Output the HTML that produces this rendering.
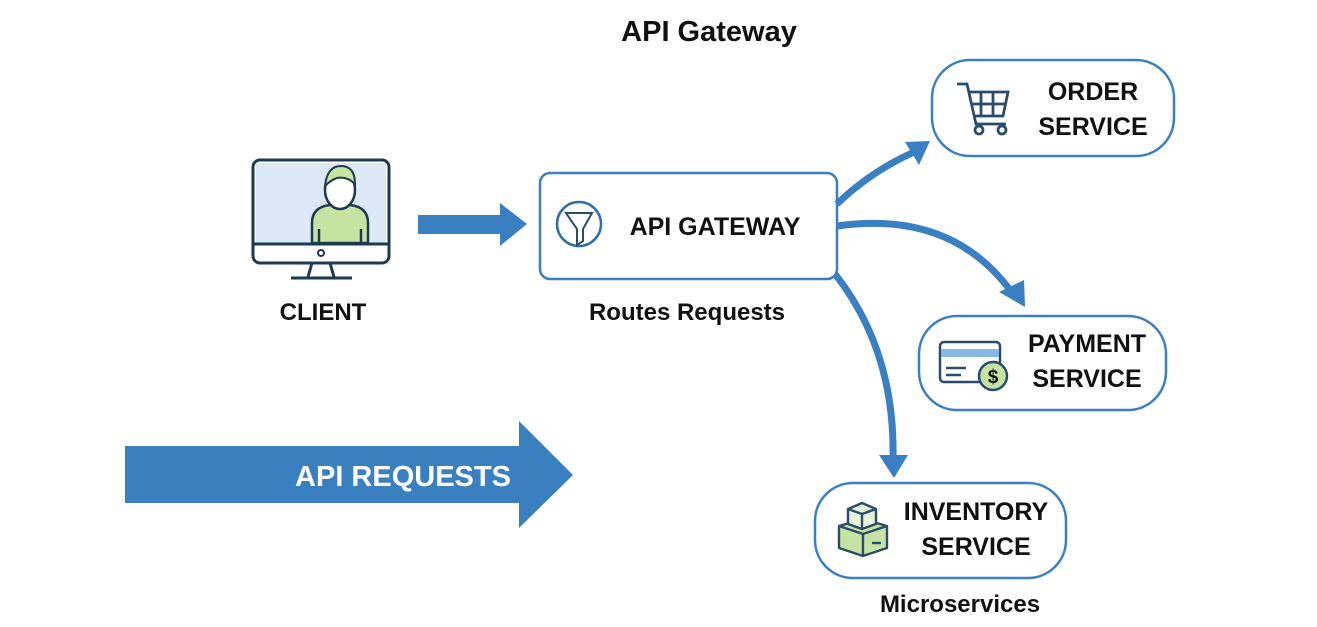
<!DOCTYPE html>
<html><head><meta charset="utf-8"><style>
html,body{margin:0;padding:0;background:#fff;}
svg{display:block;}
text{font-family:"Liberation Sans",sans-serif;font-weight:bold;fill:#111;}
</style></head><body>
<svg width="1317" height="627" viewBox="0 0 1317 627" xmlns="http://www.w3.org/2000/svg">
<text x="709" y="41" font-size="29" text-anchor="middle">API Gateway</text>

<!-- monitor -->
<rect x="253" y="160" width="136" height="103" rx="7" fill="#fff" stroke="#1e3a52" stroke-width="3"/>
<rect x="256" y="163" width="130" height="80" fill="#dbe9f7"/>
<path d="M312 243 v-20 q0-16 18-18 h20 q18 2 18 18 v20 z" fill="#c5e4a2" stroke="#1e3a52" stroke-width="2.5"/>
<path d="M319 243 v-14 M361 243 v-14" stroke="#1e3a52" stroke-width="2.5"/>
<ellipse cx="340" cy="190" rx="15" ry="19" fill="#fff" stroke="#1e3a52" stroke-width="2.5"/>
<path d="M325 186 q2-20 16-20 q14 0 14 18 q-8-8-18-6 q-6 2-12 8z" fill="#c5e4a2" stroke="#1e3a52" stroke-width="2"/>
<line x1="253" y1="244" x2="389" y2="244" stroke="#1e3a52" stroke-width="3"/>
<circle cx="321" cy="253" r="3" fill="none" stroke="#1e3a52" stroke-width="2"/>
<path d="M312 263 l-4 14 M330 263 l4 14" stroke="#1e3a52" stroke-width="3"/>
<line x1="291" y1="278" x2="352" y2="278" stroke="#1e3a52" stroke-width="3"/>
<text x="323" y="320" font-size="24" text-anchor="middle">CLIENT</text>

<!-- small arrow -->
<polygon points="418,215 500,215 500,203 527,224 500,246 500,234 418,234" fill="#3a7fc1"/>

<!-- gateway -->
<rect x="540" y="173" width="297" height="106" rx="10" fill="#fff" stroke="#3a7fc1" stroke-width="2.5"/>
<circle cx="579" cy="224" r="22" fill="#fff" stroke="#2f6ea8" stroke-width="2.5"/>
<path d="M566 213 h26 l-9 16 v12 l-6 4 v-16 z" fill="#fff" stroke="#2a4c6c" stroke-width="2"/>
<text x="715" y="235" font-size="25" text-anchor="middle">API GATEWAY</text>
<text x="687" y="320" font-size="24" text-anchor="middle">Routes Requests</text>

<!-- connectors -->
<g fill="none" stroke="#3a7fc1" stroke-width="7">
<path d="M837 204 Q870 172 914 152"/>
<path d="M837 226 Q950 210 1010 290"/>
<path d="M835 274 Q895 350 893 458"/>
</g>
<polygon points="930,141 905,142 919,165" fill="#3a7fc1"/>
<polygon points="1025,307 999,292 1024,280" fill="#3a7fc1"/>
<polygon points="894,478 879,455 908,455" fill="#3a7fc1"/>

<!-- order -->
<rect x="932" y="60" width="242" height="96" rx="38" fill="#fff" stroke="#3a7fc1" stroke-width="2.5"/>
<g fill="none" stroke="#2a4c6c" stroke-width="2.8">
<path d="M957 84 h10 l9 40 h30"/>
<path d="M969 92 h39 l-5 24 h-29"/>
<path d="M981 92 v24 M993 92 v24 M971 104 h35"/>
<circle cx="979" cy="130" r="4"/><circle cx="1002" cy="130" r="4"/>
</g>
<text x="1093" y="100" font-size="25" text-anchor="middle">ORDER</text>
<text x="1093" y="135" font-size="25" text-anchor="middle">SERVICE</text>

<!-- payment -->
<rect x="919" y="316" width="247" height="94" rx="38" fill="#fff" stroke="#3a7fc1" stroke-width="2.5"/>
<rect x="940" y="342" width="60" height="40" rx="4" fill="#fff" stroke="#2a4c6c" stroke-width="2.5"/>
<rect x="941" y="349" width="58" height="8" fill="#8ab8e6"/>
<path d="M946 368 h20 M946 375 h15" stroke="#2a4c6c" stroke-width="2.5"/>
<circle cx="993" cy="376" r="14" fill="#c5e4a2" stroke="#2a4c6c" stroke-width="2.5"/>
<text x="993" y="383" font-size="19" text-anchor="middle" fill="#2a4c6c">$</text>
<text x="1087" y="352" font-size="25" text-anchor="middle">PAYMENT</text>
<text x="1087" y="387" font-size="25" text-anchor="middle">SERVICE</text>

<!-- inventory -->
<rect x="815" y="483" width="251" height="95" rx="38" fill="#fff" stroke="#3a7fc1" stroke-width="2.5"/>
<g stroke="#2a4c6c" stroke-width="2.4" fill="#c5e4a2" stroke-linejoin="round">
<path d="M839 526 l24 -7 l24 7 v22 l-24 8 l-24 -8 z"/>
<path d="M848 509 l14 -6 l14 6 v15 l-14 5 l-14 -5 z" fill="#e6f3d6"/>
<path d="M839 526 l24 8 l24 -8 M863 534 v22 M848 509 l14 5 l14 -5 M862 514 v15" fill="none"/>
<path d="M872 543 h9" fill="none"/>
</g>
<text x="976" y="520" font-size="25" text-anchor="middle">INVENTORY</text>
<text x="976" y="555" font-size="25" text-anchor="middle">SERVICE</text>
<text x="960" y="612" font-size="24" text-anchor="middle">Microservices</text>

<!-- big arrow -->
<polygon points="125,446 519,446 519,421 573,475 519,528 519,503 125,503" fill="#3a80c0"/>
<text x="403" y="486" font-size="29" text-anchor="middle" style="fill:#fff">API REQUESTS</text>
</svg>
</body></html>
